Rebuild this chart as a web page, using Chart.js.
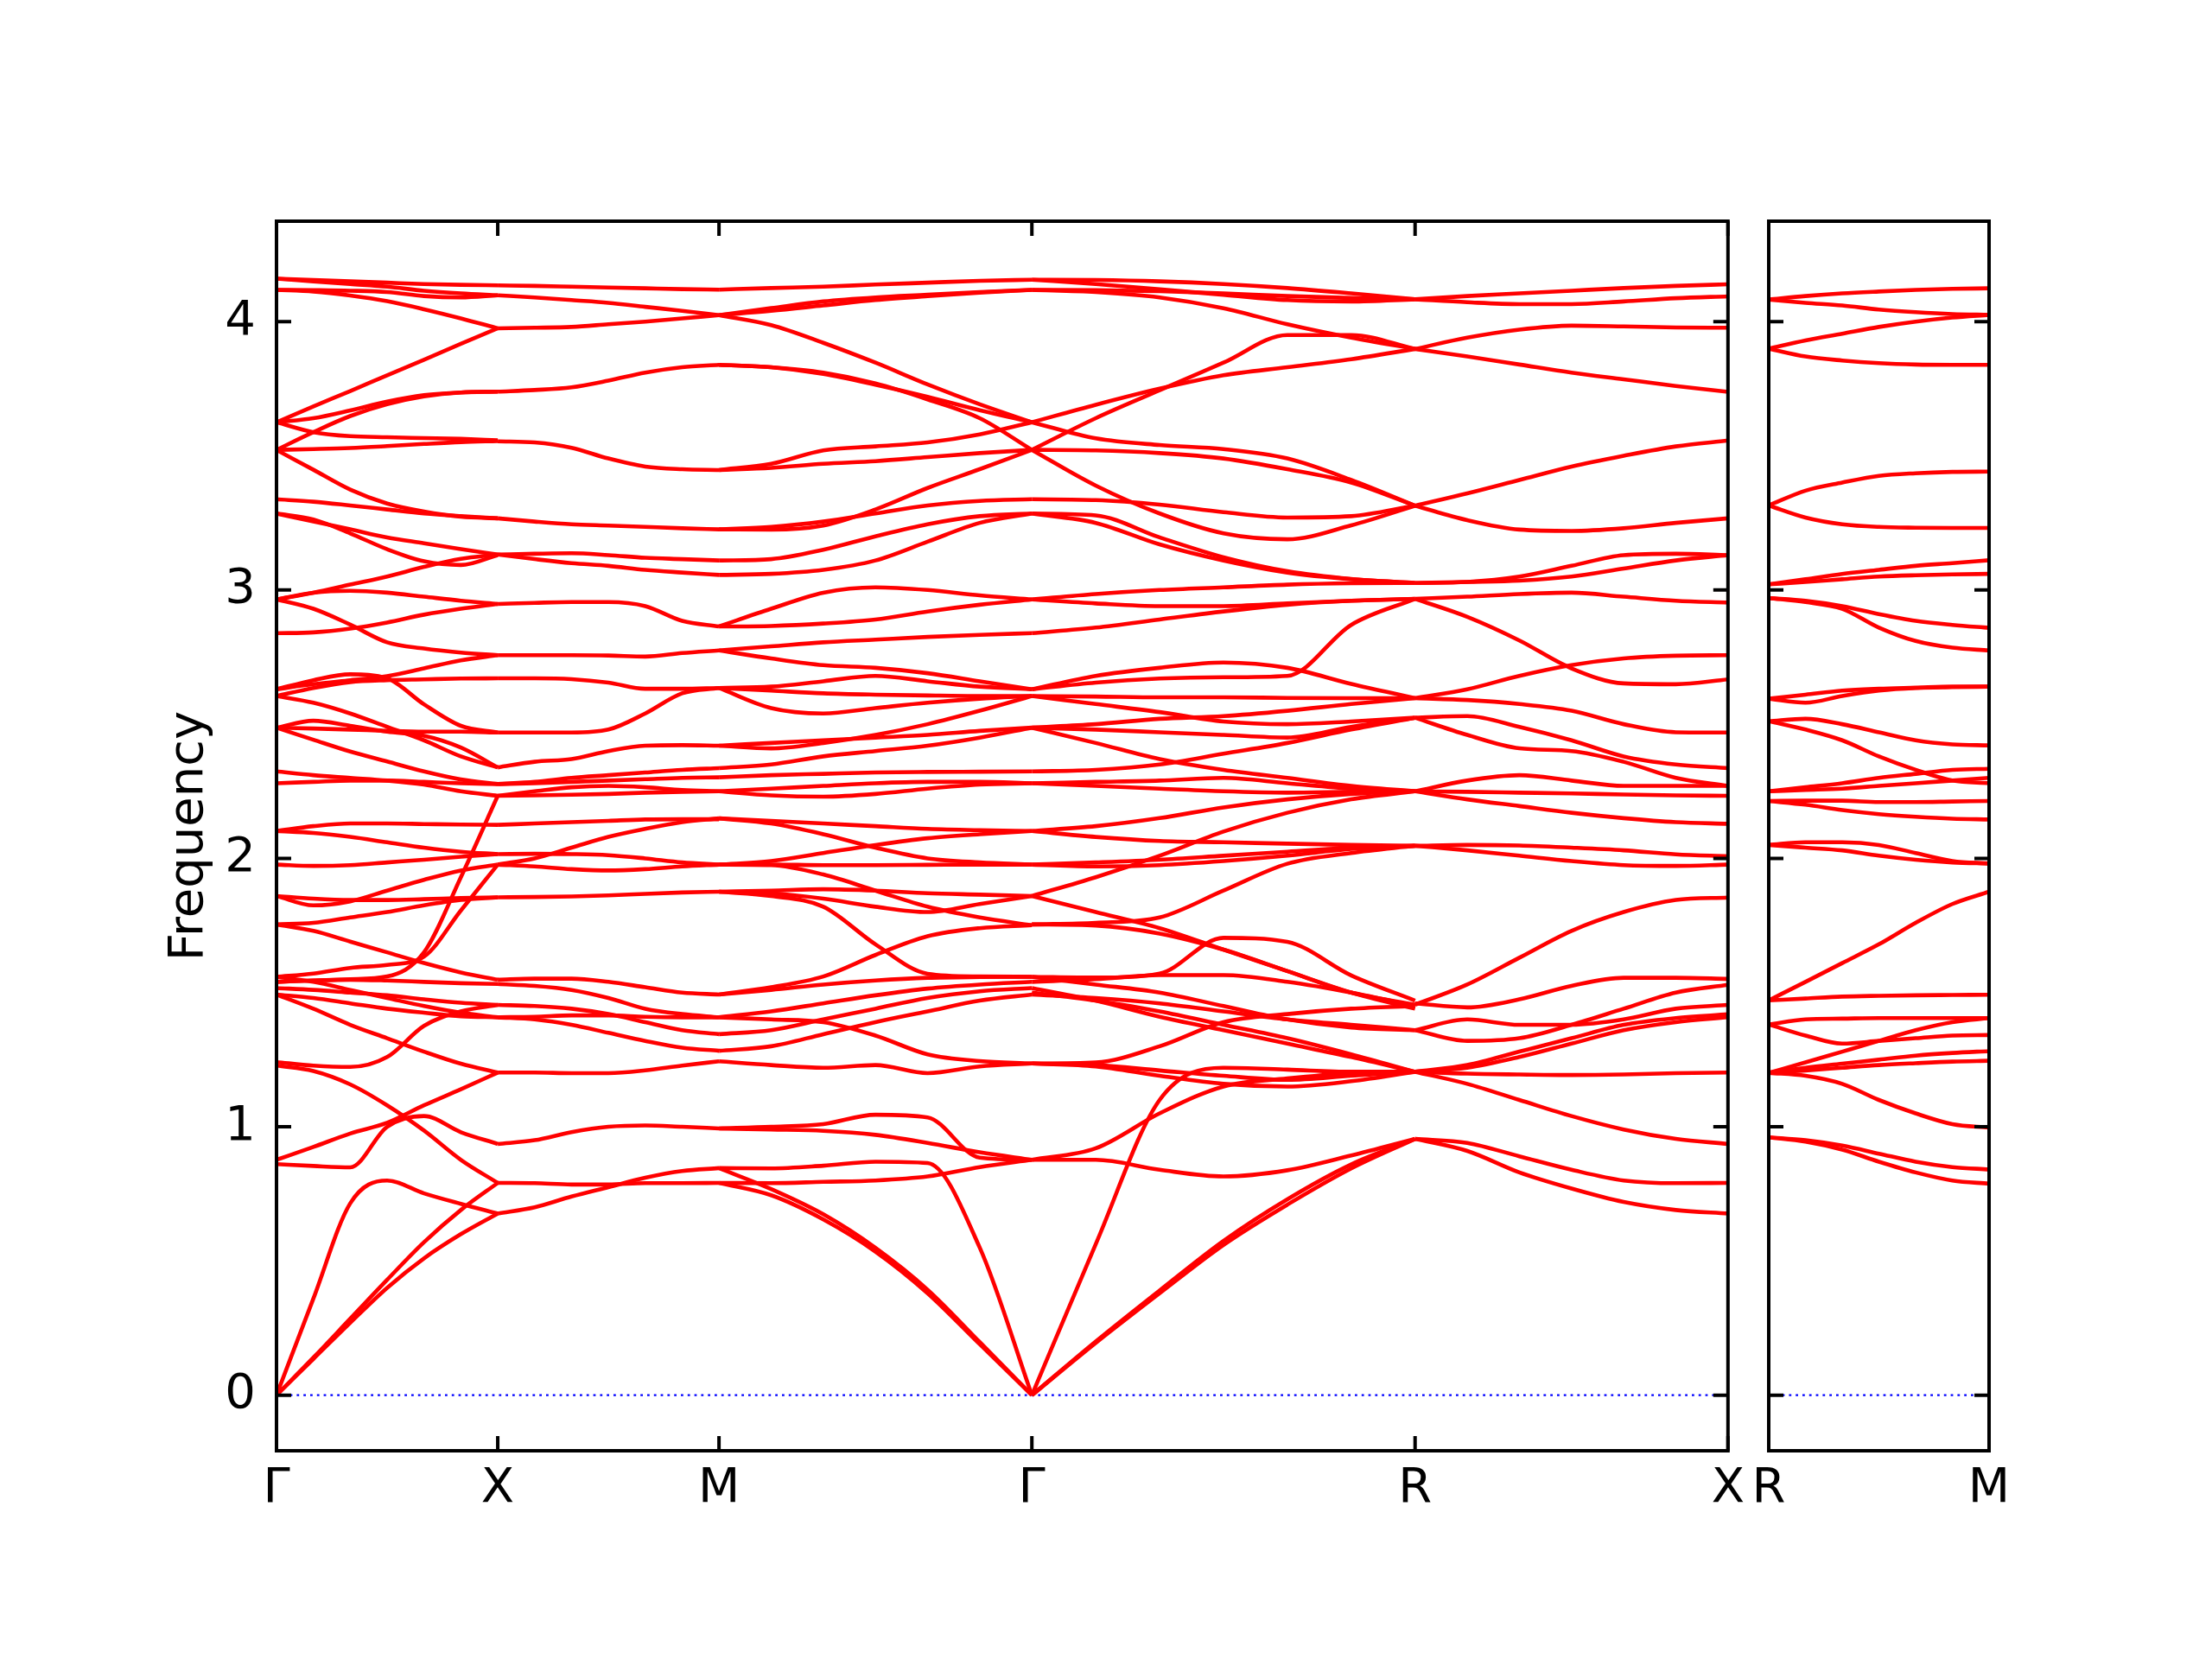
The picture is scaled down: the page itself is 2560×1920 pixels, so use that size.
<!DOCTYPE html>
<html>
<head>
<meta charset="utf-8">
<title>Phonon band structure</title>
<script src="https://cdn.jsdelivr.net/npm/chart.js@4.4.1/dist/chart.umd.min.js"></script>
<style>
  html, body { margin: 0; padding: 0; background: #fff; }
  #wrap { position: relative; width: 2560px; height: 1920px; }
  #bands-main { position: absolute; left: 0; top: 0; }
  #bands-side { position: absolute; left: 2010px; top: 0; }
</style>
</head>
<body>
<div id="wrap">
  <canvas id="bands-main" width="2030" height="1920"></canvas>
  <canvas id="bands-side" width="550" height="1920"></canvas>
</div>
<script>
'use strict';

// ── k-path: cumulative distance of each high-symmetry point ──
const KPOS_LEFT   = [0, 0.5, 1.0, 1.7071, 2.5731, 3.2802];
const KLABEL_LEFT = ['Γ', 'X', 'M', 'Γ', 'R', 'X'];
const KPOS_RIGHT   = [0, 0.5];
const KLABEL_RIGHT = ['R', 'M'];

const Y_MIN   = -0.207;
const Y_MAX   = 4.374;
const Y_TICKS = [0, 1, 2, 3, 4];

// ── Bands, one row per branch, 7 evenly spaced samples per segment ──
const BANDS_GX = [
  [4.16, 4.155, 4.15, 4.145, 4.14, 4.137, 4.135],
  [4.16, 4.15, 4.14, 4.13, 4.115, 4.105, 4.098],
  [4.118, 4.117, 4.115, 4.11, 4.095, 4.09, 4.098],
  [4.118, 4.112, 4.097, 4.076, 4.046, 4.012, 3.975],
  [3.625, 3.684, 3.741, 3.800, 3.858, 3.917, 3.975],
  [3.625, 3.640, 3.669, 3.702, 3.726, 3.736, 3.739],
  [3.522, 3.588, 3.648, 3.692, 3.721, 3.736, 3.739],
  [3.625, 3.588, 3.573, 3.569, 3.566, 3.563, 3.558],
  [3.522, 3.525, 3.529, 3.536, 3.544, 3.551, 3.555],
  [3.522, 3.448, 3.374, 3.322, 3.292, 3.273, 3.267],
  [3.338, 3.329, 3.315, 3.300, 3.285, 3.275, 3.267],
  [3.285, 3.263, 3.211, 3.152, 3.107, 3.093, 3.130],
  [3.285, 3.255, 3.226, 3.196, 3.174, 3.152, 3.132],
  [2.965, 2.99, 3.02, 3.05, 3.086, 3.116, 3.132],
  [2.965, 2.99, 2.997, 2.99, 2.975, 2.96, 2.948],
  [2.965, 2.930, 2.871, 2.805, 2.782, 2.767, 2.757],
  [2.839, 2.842, 2.856, 2.879, 2.908, 2.930, 2.948],
  [2.630, 2.664, 2.686, 2.671, 2.574, 2.494, 2.469],
  [2.630, 2.649, 2.664, 2.679, 2.708, 2.738, 2.757],
  [2.605, 2.635, 2.657, 2.664, 2.667, 2.670, 2.671],
  [2.487, 2.513, 2.494, 2.472, 2.457, 2.413, 2.339],
  [2.605, 2.58, 2.54, 2.49, 2.44, 2.38, 2.339],
  [2.487, 2.484, 2.48, 2.475, 2.472, 2.472, 2.469],
  [2.487, 2.442, 2.398, 2.361, 2.324, 2.294, 2.277],
  [2.324, 2.31, 2.30, 2.29, 2.275, 2.25, 2.233],
  [2.28, 2.285, 2.29, 2.29, 2.285, 2.28, 2.277],
  [2.102, 2.12, 2.13, 2.13, 2.128, 2.126, 2.125],
  [2.102, 2.095, 2.08, 2.06, 2.04, 2.025, 2.016],
  [1.977, 1.972, 1.975, 1.985, 1.995, 2.006, 2.016],
  [1.86, 1.825, 1.84, 1.88, 1.92, 1.955, 1.977],
  [1.754, 1.76, 1.78, 1.80, 1.825, 1.845, 1.855],
  [1.86, 1.85, 1.845, 1.845, 1.848, 1.852, 1.855],
  [1.54, 1.545, 1.55, 1.56, 1.65, 1.93, 2.233],
  [1.559, 1.571, 1.592, 1.603, 1.634, 1.806, 1.977],
  [1.754, 1.73, 1.69, 1.65, 1.61, 1.575, 1.548],
  [1.54, 1.545, 1.548, 1.545, 1.54, 1.535, 1.532],
  [1.517, 1.51, 1.50, 1.49, 1.475, 1.462, 1.454],
  [1.493, 1.48, 1.46, 1.44, 1.425, 1.412, 1.408],
  [1.559, 1.54, 1.51, 1.48, 1.45, 1.425, 1.408],
  [1.493, 1.44, 1.38, 1.33, 1.28, 1.235, 1.202],
  [1.241, 1.228, 1.223, 1.26, 1.376, 1.43, 1.454],
  [1.228, 1.208, 1.158, 1.08, 0.986, 0.877, 0.791],
  [0.877, 0.925, 0.975, 1.015, 1.08, 1.14, 1.202],
  [0.861, 0.854, 0.849, 1.0, 1.04, 0.98, 0.936],
  [0, 0.36, 0.715, 0.80, 0.752, 0.713, 0.677],
  [0, 0.14, 0.285, 0.43, 0.57, 0.69, 0.791],
  [0, 0.135, 0.27, 0.40, 0.51, 0.60, 0.677]
];

const BANDS_XM = [
  [4.135, 4.133, 4.13, 4.127, 4.124, 4.121, 4.119],
  [4.098, 4.09, 4.08, 4.07, 4.055, 4.04, 4.024],
  [3.975, 3.977, 3.98, 3.99, 4.0, 4.012, 4.024],
  [3.739, 3.745, 3.755, 3.78, 3.81, 3.83, 3.839],
  [3.554, 3.55, 3.53, 3.49, 3.46, 3.45, 3.447],
  [3.267, 3.255, 3.245, 3.24, 3.235, 3.23, 3.226],
  [3.132, 3.135, 3.137, 3.13, 3.12, 3.115, 3.110],
  [3.132, 3.115, 3.10, 3.09, 3.075, 3.065, 3.056],
  [2.948, 2.952, 2.955, 2.955, 2.94, 2.885, 2.864],
  [2.757, 2.757, 2.757, 2.756, 2.752, 2.765, 2.775],
  [2.671, 2.671, 2.668, 2.655, 2.632, 2.632, 2.635],
  [2.469, 2.469, 2.469, 2.48, 2.54, 2.615, 2.635],
  [2.339, 2.36, 2.37, 2.40, 2.42, 2.422, 2.420],
  [2.277, 2.285, 2.30, 2.31, 2.32, 2.33, 2.336],
  [2.277, 2.28, 2.285, 2.29, 2.295, 2.30, 2.302],
  [2.233, 2.235, 2.237, 2.24, 2.245, 2.248, 2.250],
  [2.233, 2.25, 2.265, 2.27, 2.265, 2.255, 2.25],
  [2.125, 2.13, 2.135, 2.14, 2.145, 2.146, 2.146],
  [1.977, 2.0, 2.04, 2.08, 2.11, 2.135, 2.149],
  [2.016, 2.017, 2.016, 2.012, 2.0, 1.985, 1.977],
  [1.977, 1.97, 1.96, 1.955, 1.96, 1.97, 1.977],
  [1.855, 1.856, 1.858, 1.862, 1.868, 1.873, 1.876],
  [1.548, 1.552, 1.552, 1.54, 1.52, 1.50, 1.493],
  [1.532, 1.525, 1.51, 1.48, 1.44, 1.42, 1.408],
  [1.454, 1.45, 1.44, 1.42, 1.39, 1.36, 1.345],
  [1.408, 1.40, 1.38, 1.35, 1.32, 1.295, 1.283],
  [1.408, 1.41, 1.415, 1.415, 1.41, 1.408, 1.408],
  [1.202, 1.202, 1.20, 1.20, 1.21, 1.228, 1.244],
  [0.936, 0.95, 0.98, 1.0, 1.005, 1.0, 0.994],
  [0.791, 0.79, 0.785, 0.785, 0.79, 0.79, 0.791],
  [0.677, 0.70, 0.74, 0.775, 0.81, 0.835, 0.846]
];

const BANDS_MG = [
  [4.119, 4.125, 4.13, 4.138, 4.145, 4.152, 4.156],
  [4.024, 4.04, 4.06, 4.08, 4.095, 4.108, 4.118],
  [4.024, 4.05, 4.075, 4.09, 4.1, 4.11, 4.118],
  [4.024, 3.987, 3.921, 3.847, 3.766, 3.692, 3.625],
  [3.839, 3.83, 3.81, 3.77, 3.71, 3.64, 3.522],
  [3.839, 3.83, 3.805, 3.765, 3.72, 3.67, 3.625],
  [3.447, 3.47, 3.52, 3.535, 3.55, 3.58, 3.625],
  [3.447, 3.455, 3.47, 3.48, 3.495, 3.51, 3.522],
  [3.226, 3.235, 3.255, 3.285, 3.315, 3.332, 3.338],
  [3.226, 3.225, 3.24, 3.30, 3.38, 3.45, 3.522],
  [3.110, 3.115, 3.15, 3.2, 3.245, 3.275, 3.285],
  [3.056, 3.06, 3.075, 3.11, 3.18, 3.25, 3.285],
  [2.864, 2.93, 2.99, 3.01, 3.0, 2.98, 2.965],
  [2.864, 2.866, 2.875, 2.89, 2.92, 2.945, 2.965],
  [2.775, 2.79, 2.805, 2.815, 2.825, 2.833, 2.839],
  [2.775, 2.745, 2.72, 2.71, 2.69, 2.66, 2.630],
  [2.635, 2.64, 2.66, 2.68, 2.66, 2.64, 2.630],
  [2.635, 2.56, 2.54, 2.56, 2.58, 2.595, 2.605],
  [2.635, 2.625, 2.615, 2.61, 2.607, 2.605, 2.605],
  [2.420, 2.43, 2.44, 2.45, 2.46, 2.475, 2.487],
  [2.420, 2.41, 2.43, 2.46, 2.50, 2.55, 2.605],
  [2.336, 2.35, 2.38, 2.40, 2.42, 2.45, 2.487],
  [2.302, 2.31, 2.315, 2.32, 2.322, 2.323, 2.324],
  [2.250, 2.26, 2.27, 2.28, 2.285, 2.285, 2.280],
  [2.250, 2.235, 2.23, 2.24, 2.26, 2.275, 2.280],
  [2.149, 2.14, 2.13, 2.12, 2.11, 2.105, 2.102],
  [2.149, 2.13, 2.09, 2.04, 2.0, 1.985, 1.977],
  [1.977, 1.975, 1.94, 1.88, 1.82, 1.78, 1.751],
  [1.977, 1.99, 2.02, 2.05, 2.075, 2.09, 2.102],
  [1.977, 1.977, 1.975, 1.975, 1.976, 1.977, 1.977],
  [1.876, 1.87, 1.85, 1.82, 1.80, 1.83, 1.86],
  [1.876, 1.88, 1.885, 1.88, 1.87, 1.865, 1.86],
  [1.876, 1.86, 1.82, 1.68, 1.57, 1.56, 1.559],
  [1.493, 1.52, 1.56, 1.64, 1.71, 1.74, 1.751],
  [1.493, 1.51, 1.53, 1.545, 1.555, 1.558, 1.559],
  [1.408, 1.43, 1.46, 1.49, 1.515, 1.53, 1.54],
  [1.345, 1.36, 1.40, 1.44, 1.48, 1.505, 1.517],
  [1.283, 1.30, 1.345, 1.39, 1.43, 1.47, 1.493],
  [1.408, 1.40, 1.39, 1.34, 1.27, 1.245, 1.236],
  [1.244, 1.23, 1.22, 1.23, 1.20, 1.225, 1.236],
  [0.994, 1.0, 1.01, 1.045, 1.035, 0.885, 0.877],
  [0.994, 0.99, 0.985, 0.97, 0.94, 0.905, 0.877],
  [0.791, 0.79, 0.795, 0.80, 0.815, 0.85, 0.877],
  [0.846, 0.845, 0.855, 0.87, 0.865, 0.55, 0],
  [0.846, 0.768, 0.674, 0.549, 0.393, 0.198, 0],
  [0.791, 0.745, 0.655, 0.535, 0.38, 0.19, 0]
];

const BANDS_GR = [
  [4.156, 4.155, 4.15, 4.14, 4.125, 4.105, 4.083],
  [4.156, 4.14, 4.12, 4.10, 4.08, 4.075, 4.083],
  [4.118, 4.117, 4.113, 4.105, 4.095, 4.088, 4.083],
  [4.118, 4.11, 4.09, 4.05, 3.99, 3.94, 3.898],
  [3.522, 3.64, 3.744, 3.847, 3.95, 3.95, 3.898],
  [3.625, 3.69, 3.75, 3.80, 3.83, 3.86, 3.898],
  [3.625, 3.565, 3.54, 3.525, 3.49, 3.41, 3.314],
  [3.522, 3.52, 3.51, 3.49, 3.45, 3.40, 3.314],
  [3.522, 3.389, 3.285, 3.211, 3.189, 3.241, 3.314],
  [3.338, 3.335, 3.318, 3.29, 3.27, 3.275, 3.314],
  [3.285, 3.278, 3.196, 3.122, 3.07, 3.041, 3.026],
  [3.285, 3.25, 3.17, 3.11, 3.065, 3.04, 3.026],
  [2.965, 2.985, 3.0, 3.01, 3.02, 3.025, 3.026],
  [2.965, 2.95, 2.94, 2.94, 2.95, 2.96, 2.967],
  [2.839, 2.86, 2.89, 2.92, 2.945, 2.96, 2.967],
  [2.63, 2.68, 2.71, 2.73, 2.71, 2.65, 2.597],
  [2.63, 2.655, 2.67, 2.675, 2.68, 2.87, 2.967],
  [2.605, 2.603, 2.60, 2.60, 2.598, 2.597, 2.597],
  [2.605, 2.575, 2.545, 2.51, 2.50, 2.51, 2.524],
  [2.487, 2.5, 2.52, 2.53, 2.55, 2.575, 2.597],
  [2.487, 2.48, 2.47, 2.46, 2.45, 2.49, 2.524],
  [2.487, 2.43, 2.37, 2.33, 2.30, 2.27, 2.250],
  [2.324, 2.33, 2.35, 2.39, 2.43, 2.48, 2.524],
  [2.28, 2.285, 2.29, 2.30, 2.28, 2.26, 2.250],
  [2.28, 2.27, 2.26, 2.25, 2.245, 2.248, 2.250],
  [2.102, 2.12, 2.15, 2.19, 2.22, 2.24, 2.250],
  [2.102, 2.08, 2.065, 2.06, 2.055, 2.05, 2.047],
  [1.977, 1.985, 1.995, 2.01, 2.025, 2.04, 2.047],
  [1.977, 1.97, 1.975, 1.99, 2.01, 2.035, 2.047],
  [1.86, 1.93, 2.01, 2.1, 2.17, 2.22, 2.25],
  [1.754, 1.76, 1.78, 1.88, 1.98, 2.02, 2.047],
  [1.86, 1.80, 1.74, 1.66, 1.58, 1.50, 1.455],
  [1.754, 1.75, 1.72, 1.66, 1.58, 1.50, 1.44],
  [1.559, 1.556, 1.571, 1.704, 1.689, 1.564, 1.47],
  [1.54, 1.55, 1.565, 1.565, 1.54, 1.50, 1.45],
  [1.517, 1.47, 1.41, 1.36, 1.31, 1.26, 1.205],
  [1.5, 1.47, 1.43, 1.38, 1.33, 1.27, 1.205],
  [1.493, 1.48, 1.46, 1.43, 1.40, 1.38, 1.36],
  [1.559, 1.53, 1.50, 1.45, 1.40, 1.37, 1.36],
  [1.236, 1.24, 1.30, 1.39, 1.42, 1.44, 1.45],
  [1.236, 1.225, 1.19, 1.16, 1.15, 1.17, 1.205],
  [1.236, 1.23, 1.21, 1.19, 1.175, 1.19, 1.205],
  [0, 0.563, 1.10, 1.22, 1.213, 1.205, 1.205],
  [0.877, 0.877, 0.84, 0.815, 0.838, 0.893, 0.955],
  [0.877, 0.92, 1.05, 1.15, 1.18, 1.2, 1.205],
  [0, 0.2, 0.39, 0.575, 0.73, 0.86, 0.955],
  [0, 0.195, 0.38, 0.56, 0.71, 0.845, 0.955]
];

const BANDS_RX = [
  [4.083, 4.095, 4.105, 4.115, 4.125, 4.133, 4.139],
  [4.083, 4.072, 4.065, 4.065, 4.075, 4.087, 4.094],
  [3.898, 3.94, 3.97, 3.985, 3.982, 3.978, 3.977],
  [3.898, 3.87, 3.84, 3.81, 3.785, 3.76, 3.738],
  [3.314, 3.36, 3.41, 3.46, 3.50, 3.535, 3.557],
  [3.314, 3.26, 3.225, 3.22, 3.23, 3.25, 3.267],
  [3.026, 3.03, 3.05, 3.09, 3.13, 3.135, 3.130],
  [3.026, 3.03, 3.035, 3.05, 3.08, 3.11, 3.130],
  [2.967, 2.975, 2.985, 2.99, 2.975, 2.96, 2.953],
  [2.967, 2.90, 2.812, 2.708, 2.652, 2.649, 2.667],
  [2.597, 2.63, 2.68, 2.72, 2.745, 2.755, 2.757],
  [2.597, 2.59, 2.575, 2.55, 2.50, 2.47, 2.469],
  [2.524, 2.53, 2.49, 2.44, 2.38, 2.35, 2.336],
  [2.524, 2.46, 2.41, 2.40, 2.36, 2.30, 2.270],
  [2.25, 2.29, 2.31, 2.29, 2.27, 2.27, 2.270],
  [2.25, 2.248, 2.245, 2.242, 2.238, 2.235, 2.233],
  [2.25, 2.22, 2.195, 2.17, 2.15, 2.135, 2.129],
  [2.047, 2.05, 2.048, 2.04, 2.03, 2.015, 2.008],
  [2.047, 2.03, 2.01, 1.99, 1.975, 1.972, 1.977],
  [1.455, 1.53, 1.63, 1.73, 1.80, 1.845, 1.854],
  [1.46, 1.445, 1.475, 1.525, 1.555, 1.555, 1.551],
  [1.36, 1.32, 1.33, 1.38, 1.44, 1.50, 1.529],
  [1.36, 1.40, 1.38, 1.38, 1.40, 1.44, 1.454],
  [1.205, 1.23, 1.28, 1.33, 1.38, 1.405, 1.419],
  [1.205, 1.22, 1.26, 1.31, 1.36, 1.39, 1.408],
  [1.205, 1.198, 1.195, 1.193, 1.195, 1.2, 1.202],
  [1.205, 1.16, 1.10, 1.04, 0.99, 0.955, 0.936],
  [0.955, 0.94, 0.89, 0.84, 0.80, 0.79, 0.791],
  [0.955, 0.91, 0.83, 0.77, 0.72, 0.69, 0.677]
];

const BANDS_RM = [
  [4.082, 4.095, 4.105, 4.112, 4.118, 4.122, 4.124],
  [4.082, 4.07, 4.06, 4.045, 4.035, 4.028, 4.025],
  [3.899, 3.93, 3.955, 3.98, 4.0, 4.015, 4.025],
  [3.899, 3.87, 3.855, 3.845, 3.84, 3.839, 3.839],
  [3.315, 3.37, 3.40, 3.425, 3.435, 3.44, 3.441],
  [3.315, 3.27, 3.245, 3.235, 3.232, 3.231, 3.231],
  [3.021, 3.04, 3.06, 3.075, 3.09, 3.10, 3.111],
  [3.021, 3.03, 3.04, 3.05, 3.055, 3.058, 3.060],
  [2.970, 2.96, 2.94, 2.91, 2.885, 2.87, 2.859],
  [2.970, 2.955, 2.93, 2.86, 2.81, 2.785, 2.775],
  [2.595, 2.58, 2.605, 2.625, 2.635, 2.638, 2.640],
  [2.595, 2.61, 2.625, 2.632, 2.636, 2.64, 2.640],
  [2.511, 2.52, 2.50, 2.47, 2.44, 2.425, 2.421],
  [2.511, 2.48, 2.44, 2.38, 2.33, 2.29, 2.280],
  [2.250, 2.265, 2.28, 2.30, 2.315, 2.33, 2.334],
  [2.250, 2.255, 2.26, 2.27, 2.28, 2.29, 2.30],
  [2.214, 2.215, 2.215, 2.21, 2.21, 2.212, 2.214],
  [2.214, 2.20, 2.18, 2.165, 2.155, 2.148, 2.145],
  [2.050, 2.06, 2.06, 2.05, 2.02, 1.99, 1.981],
  [2.050, 2.04, 2.03, 2.01, 1.995, 1.985, 1.981],
  [1.471, 1.54, 1.61, 1.68, 1.76, 1.83, 1.876],
  [1.471, 1.478, 1.485, 1.488, 1.49, 1.491, 1.492],
  [1.381, 1.40, 1.403, 1.405, 1.405, 1.405, 1.405],
  [1.381, 1.34, 1.31, 1.32, 1.33, 1.34, 1.342],
  [1.201, 1.24, 1.28, 1.32, 1.36, 1.39, 1.405],
  [1.201, 1.22, 1.235, 1.25, 1.265, 1.275, 1.282],
  [1.201, 1.21, 1.22, 1.23, 1.237, 1.243, 1.246],
  [1.201, 1.19, 1.16, 1.10, 1.05, 1.01, 0.997],
  [0.961, 0.95, 0.93, 0.90, 0.87, 0.85, 0.841],
  [0.961, 0.945, 0.915, 0.87, 0.83, 0.80, 0.788]
];

// ── Styling ──────────────────────────────────────────────────
const FONT      = "'DejaVu Sans', 'Liberation Sans', sans-serif";
const FONT_SIZE = 56;
const BAND_RED  = '#ff0000';
const ZERO_BLUE = '#0000ff';
const TICK_LEN  = 17;
const FRAME_W   = 4;

Chart.defaults.font.family = FONT;
Chart.defaults.color = '#000';

// one dataset per branch per segment
function segmentDatasets(k0, k1, bands) {
  return bands.map(b => ({
    data: b.map((y, i) => ({ x: k0 + (k1 - k0) * i / (b.length - 1), y })),
    borderColor: BAND_RED,
    borderWidth: 4.6,
    pointRadius: 0,
    fill: false,
    cubicInterpolationMode: 'monotone',
    order: 0
  }));
}

function zeroLine(k0, k1) {
  return {
    data: [{ x: k0, y: 0 }, { x: k1, y: 0 }],
    borderColor: ZERO_BLUE,
    borderWidth: 2.2,
    borderDash: [2.8, 5],
    pointRadius: 0,
    fill: false,
    order: 1
  };
}

// matplotlib-style frame with inward ticks on all four sides
const frameTicks = {
  id: 'frameTicks',
  afterDraw(chart) {
    const { ctx, chartArea: a, scales } = chart;
    ctx.save();
    ctx.strokeStyle = '#000';
    ctx.lineWidth = FRAME_W;
    ctx.beginPath();
    scales.x.ticks.forEach(t => {
      const px = scales.x.getPixelForValue(t.value);
      ctx.moveTo(px, a.bottom); ctx.lineTo(px, a.bottom - TICK_LEN);
      ctx.moveTo(px, a.top);    ctx.lineTo(px, a.top + TICK_LEN);
    });
    scales.y.ticks.forEach(t => {
      const py = scales.y.getPixelForValue(t.value);
      ctx.moveTo(a.left, py);  ctx.lineTo(a.left + TICK_LEN, py);
      ctx.moveTo(a.right, py); ctx.lineTo(a.right - TICK_LEN, py);
    });
    ctx.stroke();
    ctx.strokeRect(a.left, a.top, a.right - a.left, a.bottom - a.top);
    ctx.restore();
  }
};

function buildOptions(kpos, klabels, showY, padding, yWidth) {
  return {
    responsive: false,
    animation: false,
    events: [],
    layout: { padding },
    plugins: { legend: { display: false }, tooltip: { enabled: false } },
    scales: {
      x: {
        type: 'linear',
        min: kpos[0],
        max: kpos[kpos.length - 1],
        afterBuildTicks: s => { s.ticks = kpos.map(v => ({ value: v })); },
        afterFit: s => { s.height = 241; },
        ticks: {
          autoSkip: false, maxRotation: 0, padding: 11,
          font: { size: FONT_SIZE },
          callback: (v, i) => klabels[i]
        },
        grid: { display: false, drawTicks: false },
        border: { display: false }
      },
      y: {
        type: 'linear',
        min: Y_MIN,
        max: Y_MAX,
        afterBuildTicks: s => { s.ticks = Y_TICKS.map(v => ({ value: v })); },
        afterFit: s => { s.width = yWidth; },
        ticks: {
          display: showY, padding: 24,
          font: { size: FONT_SIZE },
          callback: v => String(v)
        },
        grid: { display: false, drawTicks: false },
        border: { display: false },
        title: {
          display: showY, text: 'Frequency', padding: 0,
          font: { size: FONT_SIZE }
        }
      }
    }
  };
}

// ── Left panel: Γ-X-M-Γ-R-X ──────────────────────────────────
const mainSegments = [BANDS_GX, BANDS_XM, BANDS_MG, BANDS_GR, BANDS_RX];
const mainDatasets = [zeroLine(KPOS_LEFT[0], KPOS_LEFT[KPOS_LEFT.length - 1])];
mainSegments.forEach((bands, s) => {
  mainDatasets.push(...segmentDatasets(KPOS_LEFT[s], KPOS_LEFT[s + 1], bands));
});

new Chart(document.getElementById('bands-main'), {
  type: 'line',
  data: { datasets: mainDatasets },
  options: buildOptions(KPOS_LEFT, KLABEL_LEFT, true,
    { left: 186, right: 28, top: 256, bottom: 0 }, 134),
  plugins: [frameTicks]
});

// ── Right panel: R-M ─────────────────────────────────────────
const sideDatasets = [zeroLine(KPOS_RIGHT[0], KPOS_RIGHT[1])]
  .concat(segmentDatasets(KPOS_RIGHT[0], KPOS_RIGHT[1], BANDS_RM));

new Chart(document.getElementById('bands-side'), {
  type: 'line',
  data: { datasets: sideDatasets },
  options: buildOptions(KPOS_RIGHT, KLABEL_RIGHT, false,
    { left: 37, right: 258, top: 256, bottom: 0 }, 0),
  plugins: [frameTicks]
});
</script>
</body>
</html>
